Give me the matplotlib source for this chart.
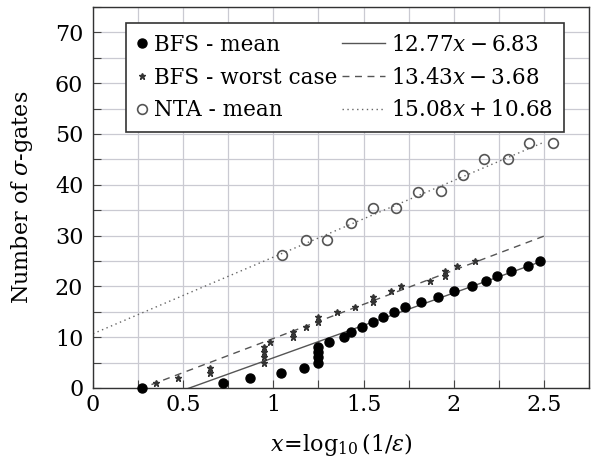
import numpy as np
import matplotlib.pyplot as plt
from matplotlib.legend_handler import HandlerLine2D

plt.rcParams['font.family'] = 'DejaVu Serif'
plt.rcParams['mathtext.fontset'] = 'dejavuserif'

# BFS - mean (filled circles)
bfs_mean_x = [0.27, 0.72, 0.87, 1.04, 1.17, 1.25, 1.25, 1.25, 1.25, 1.31, 1.39, 1.43, 1.49,
              1.55, 1.61, 1.67, 1.73, 1.82, 1.91, 2.00, 2.10, 2.18, 2.24, 2.32, 2.41, 2.48]
bfs_mean_y = [0, 1, 2, 3, 4, 5, 6, 7, 8, 9, 10, 11, 12,
              13, 14, 15, 16, 17, 18, 19, 20, 21, 22, 23, 24, 25]

# BFS - worst case (stars)
bfs_worst_x = [0.35, 0.47, 0.65, 0.65, 0.95, 0.95, 0.95, 0.95, 0.98, 1.11, 1.11, 1.18, 1.25,
               1.25, 1.35, 1.45, 1.55, 1.55, 1.65, 1.71, 1.87, 1.95, 1.95, 2.02, 2.12]
bfs_worst_y = [1, 2, 3, 4, 5, 6, 7, 8, 9, 10, 11, 12, 13,
               14, 15, 16, 17, 18, 19, 20, 21, 22, 23, 24, 25]

# NTA - mean (open circles)
nta_x = [1.05, 1.18, 1.30, 1.43, 1.55, 1.68, 1.80, 1.93, 2.05, 2.17, 2.30, 2.42, 2.55]
nta_y = [26.2, 29.2, 29.1, 32.4, 35.4, 35.4, 38.6, 38.8, 41.9, 45.1, 45.0, 48.3, 48.3]

# linear fits
fit_slope = [12.77, 13.43, 15.08]
fit_icept = [-6.83, -3.68, 10.68]
fit_label = [r'$12.77x-6.83$', r'$13.43x-3.68$', r'$15.08x+10.68$']


class MarkOnly(HandlerLine2D):
    # narrow handle box for marker-only entries
    def legend_artist(self, legend, orig_handle, fontsize, handlebox):
        handlebox.width = 0.5 * fontsize
        return super().legend_artist(legend, orig_handle, fontsize, handlebox)


fig = plt.figure(figsize=(5.94, 4.61), dpi=100)
ax = fig.add_axes([0.1566, 0.1584, 0.835, 0.8264])

xf = np.linspace(0, 2.5, 200)
styles = ['-', (0, (5, 4)), (0, (1, 2.5))]
colors = ['#555555', '#555555', '#666666']
lines = []
for m, b, ls, c in zip(fit_slope, fit_icept, styles, colors):
    l, = ax.plot(xf, m * xf + b, linestyle=ls, color=c, lw=1.0, zorder=2)
    lines.append(l)

h1, = ax.plot(bfs_mean_x, bfs_mean_y, 'o', color='black', ms=6.5, clip_on=False, zorder=4)
h2, = ax.plot(bfs_worst_x, bfs_worst_y, '*', color='#333333', ms=5, clip_on=False, zorder=4)
h3, = ax.plot(nta_x, nta_y, 'o', mfc='none', mec='#555555', mew=1.2, ms=7, clip_on=False, zorder=4)

ax.set_xlim(0, 2.75)
ax.set_ylim(0, 75)
ax.set_xticks([0, 0.5, 1, 1.5, 2, 2.5])
ax.set_xticklabels(['0', '0.5', '1', '1.5', '2', '2.5'])
ax.set_xticks(np.arange(0, 2.76, 0.25), minor=True)
ax.set_yticks(np.arange(0, 71, 10))
ax.set_yticks(np.arange(0, 76, 5), minor=True)
ax.grid(True, which='both', color='#cacad2', lw=0.9)
ax.set_axisbelow(True)
ax.tick_params(which='both', direction='in', length=6, width=0.8, color='#444444')
ax.tick_params(axis='x', labelsize=16, pad=4)
ax.tick_params(axis='y', labelsize=16, pad=7)
for s in ax.spines.values():
    s.set_color('#333333')
    s.set_linewidth(1.0)

ax.set_xlabel(r'$x\!=\!\log_{10}(1/\varepsilon)$', fontsize=16, labelpad=11)
ax.set_ylabel(r'Number of $\sigma$-gates', fontsize=16, labelpad=14)

leg = ax.legend([h1, h2, h3] + lines,
                ['BFS - mean', 'BFS - worst case', 'NTA - mean'] + fit_label,
                ncol=2, loc='upper left', bbox_to_anchor=(0.0665, 0.958), borderaxespad=0,
                fontsize=15.5, handlelength=2.0, handletextpad=0.3, columnspacing=0.2,
                labelspacing=0.5, borderpad=0.5, fancybox=False, framealpha=1,
                edgecolor='#333333',
                handler_map={h1: MarkOnly(), h2: MarkOnly(), h3: MarkOnly()})
leg.get_frame().set_linewidth(1.2)
leg.set_zorder(5)

fig.savefig('out.png', dpi=100)
